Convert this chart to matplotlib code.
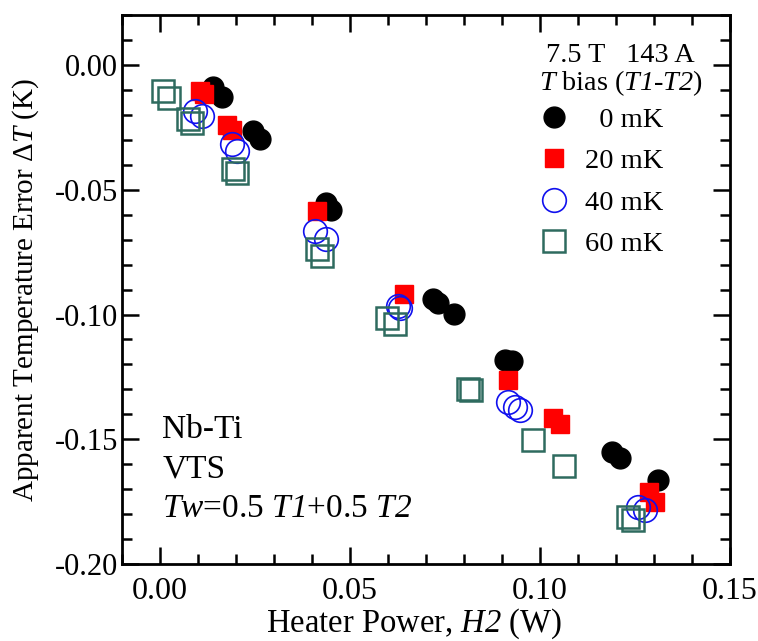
import numpy as np
import matplotlib
matplotlib.use('Agg')
import matplotlib.pyplot as plt
from matplotlib.ticker import MultipleLocator

plt.rcParams['font.family'] = ['Liberation Serif', 'DejaVu Serif']
plt.rcParams['mathtext.fontset'] = 'custom'
plt.rcParams['mathtext.rm'] = 'Liberation Serif'
plt.rcParams['mathtext.it'] = 'Liberation Serif:italic'
# italic digits too (T1, T2, H2)
plt.rcParams['mathtext.sf'] = 'Liberation Serif:italic'

# Heater power H2 (W) and apparent temperature error dT (K) per T bias
h_0mK = [0.0139, 0.0163, 0.0245, 0.0263, 0.0437, 0.0450, 0.0718, 0.0732, 0.0775,
         0.0908, 0.0926, 0.1190, 0.1210, 0.1310]
dt_0mK = [-0.0088, -0.0128, -0.0264, -0.0296, -0.0552, -0.0580, -0.0936, -0.0952, -0.0996,
          -0.1184, -0.1188, -0.1552, -0.1576, -0.1664]

h_20mK = [0.0105, 0.0115, 0.0176, 0.0190, 0.0413, 0.0642, 0.0916, 0.1034, 0.1053, 0.1287, 0.1303]
dt_20mK = [-0.0104, -0.0116, -0.0240, -0.0260, -0.0584, -0.0916, -0.1264, -0.1416, -0.1440,
           -0.1712, -0.1752]

h_40mK = [0.0092, 0.0110, 0.0190, 0.0203, 0.0408, 0.0437, 0.0626, 0.0632, 0.0916, 0.0934,
          0.0947, 0.1258, 0.1276]
dt_40mK = [-0.0184, -0.0204, -0.0316, -0.0344, -0.0664, -0.0696, -0.0964, -0.0972, -0.1352,
           -0.1372, -0.1384, -0.1772, -0.1784]

h_60mK = [0.0008, 0.0024, 0.0074, 0.0084, 0.0192, 0.0203, 0.0413, 0.0426, 0.0597, 0.0618,
          0.0810, 0.0818, 0.0982, 0.1063, 0.1232, 0.1245]
dt_60mK = [-0.0104, -0.0132, -0.0216, -0.0232, -0.0416, -0.0432, -0.0736, -0.0764, -0.1012,
           -0.1036, -0.1300, -0.1304, -0.1504, -0.1608, -0.1812, -0.1824]

fig = plt.figure(figsize=(7.58, 6.41), dpi=100)
ax = fig.add_axes([0.161, 0.120, 0.802, 0.8565])

ax.plot(h_0mK, dt_0mK, 'o', color='black', ms=15, mec='black', label='  0 mK')
ax.plot(h_20mK, dt_20mK, 's', color='#ff0000', ms=13, mec='#ff0000', label='20 mK')
ax.plot(h_40mK, dt_40mK, 'o', mfc='none', mec='#1010ee', ms=17, mew=1.2, label='40 mK')
ax.plot(h_60mK, dt_60mK, 's', mfc='none', mec='#2e6b5f', ms=16, mew=1.8, label='60 mK')

ax.set_xlim(-0.01, 0.15)
ax.set_ylim(-0.20, 0.02)
ax.xaxis.set_major_locator(MultipleLocator(0.05))
ax.xaxis.set_minor_locator(MultipleLocator(0.01))
ax.yaxis.set_major_locator(MultipleLocator(0.05))
ax.yaxis.set_minor_locator(MultipleLocator(0.01))
ax.xaxis.set_major_formatter(plt.FormatStrFormatter('%.2f'))
ax.yaxis.set_major_formatter(plt.FormatStrFormatter('%.2f'))
ax.tick_params(which='both', direction='in', top=True, right=True, width=1.8)
ax.tick_params(which='major', length=12)
ax.tick_params(which='minor', length=7)
ax.tick_params(axis='x', labelsize=23, pad=9)
ax.tick_params(axis='y', labelsize=22, pad=3)
for s in ax.spines.values():
    s.set_linewidth(2)

ax.set_xlabel('Heater Power, $\\mathsf{H2}$ (W)', fontsize=23.5, labelpad=1)
ax.xaxis.label.set_x(0.48)
ax.set_ylabel('Apparent Temperature Error \u0394$T$ (K)', fontsize=21, labelpad=10)

ax.text(0.942, 0.914, '7.5 T   143 A', transform=ax.transAxes, ha='right', va='baseline',
        fontsize=20.3)
ax.text(0.956, 0.863, '$T$ bias ($\\mathsf{T1}$-$\\mathsf{T2}$)', transform=ax.transAxes,
        ha='right', va='baseline', fontsize=20.3)

ax.text(0.066, 0.2295, 'Nb-Ti', transform=ax.transAxes, va='baseline', fontsize=24)
ax.text(0.066, 0.158, 'VTS', transform=ax.transAxes, va='baseline', fontsize=24)
ax.text(0.066, 0.0856, '$\\mathsf{Tw}$=0.5 $\\mathsf{T1}$+0.5 $\\mathsf{T2}$',
        transform=ax.transAxes, va='baseline', fontsize=24)

ax.legend(loc='upper right', bbox_to_anchor=(0.89, 0.833), frameon=False, fontsize=20.5,
          handletextpad=0.5, labelspacing=0.55, borderpad=0, borderaxespad=0,
          handlelength=1.2)

plt.savefig('out.png', dpi=100)
